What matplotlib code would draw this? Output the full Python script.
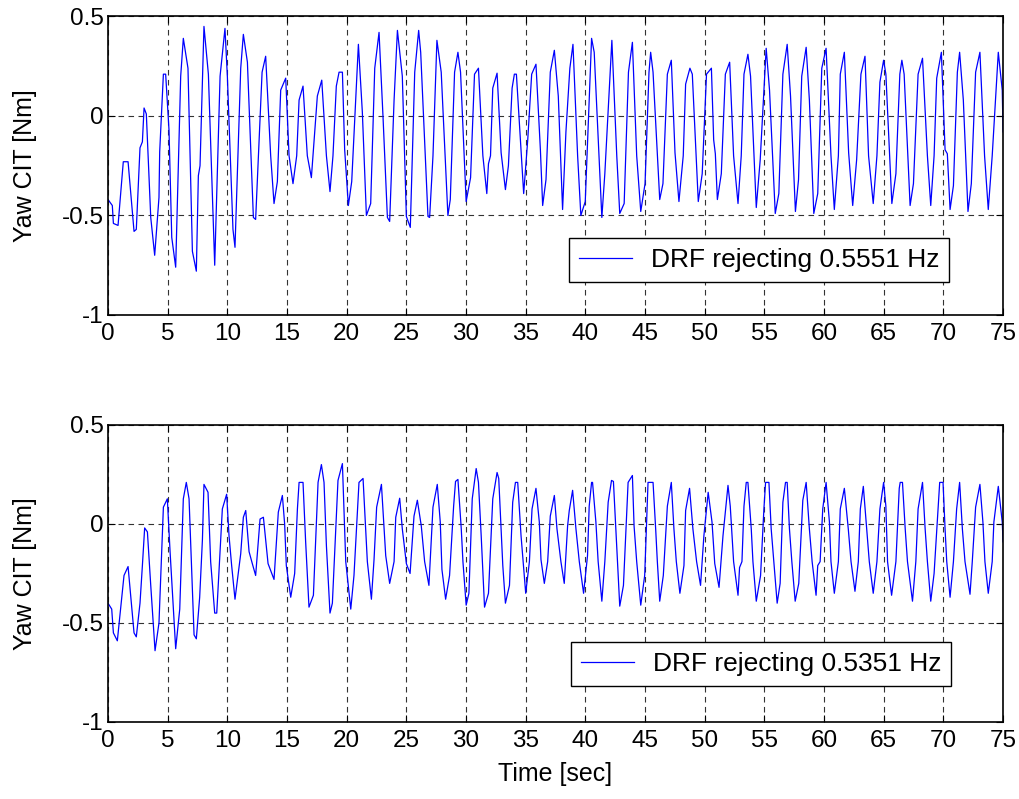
import matplotlib
matplotlib.use('Agg')
from matplotlib import pyplot as plt

plt.rcParams['font.family'] = ['Liberation Sans', 'DejaVu Sans']

# upper panel: DRF rejecting 0.5551 Hz (vertices)
t1 = [0.0, 0.36, 0.45, 0.84, 1.28, 1.68, 2.18, 2.37, 2.68, 2.88, 3.02, 3.21, 3.58, 3.91,
      4.27, 4.33, 4.64, 4.83, 5.11, 5.34, 5.67, 6.09, 6.31, 6.70, 7.07, 7.40, 7.57, 7.71,
      8.04, 8.41, 8.94, 9.39, 9.80, 10.0, 10.47, 10.64, 11.12, 11.34, 11.68, 12.18, 12.37,
      12.91, 13.21, 13.63, 13.91, 14.19, 14.47, 14.89, 15.17, 15.50, 15.81, 16.01, 16.34,
      16.70, 17.04, 17.54, 17.91, 18.30, 18.60, 18.85, 19.13, 19.36, 19.64, 19.83, 20.14,
      20.42, 20.98, 21.31, 21.65, 22.01, 22.35, 22.71, 23.04, 23.41, 23.60, 23.97, 24.25,
      24.66, 25.0, 25.33, 25.70, 26.03, 26.20, 26.81, 26.95, 27.23, 27.56, 27.92, 28.48,
      28.68, 29.04, 29.32, 29.54, 30.01, 30.38, 30.71, 31.04, 31.41, 31.74, 31.88, 32.05,
      32.24, 32.60, 32.94, 33.30, 33.55, 33.86, 34.05, 34.22, 34.83, 35.17, 35.50, 35.86,
      36.23, 36.42, 36.70, 37.06, 37.40, 37.73, 38.09, 38.37, 38.70, 38.96, 39.35, 39.62,
      39.99, 40.52, 40.74, 41.38, 41.63, 42.22, 42.63, 42.88, 43.25, 43.61, 43.94, 44.30,
      44.64, 45.00, 45.33, 45.47, 45.67, 46.23, 46.50, 46.87, 47.20, 47.51, 47.84, 48.20,
      48.40, 48.76, 48.96, 49.46, 49.79, 50.15, 50.56, 50.75, 50.89, 51.06, 51.39, 51.73,
      52.09, 52.42, 52.79, 53.06, 53.29, 53.62, 53.84, 54.32, 54.65, 55.15, 55.43, 55.91,
      56.21, 56.55, 56.91, 57.19, 57.60, 57.86, 58.13, 58.50, 58.77, 59.14, 59.47, 59.81,
      60.17, 60.58, 60.86, 61.20, 61.36, 61.70, 62.06, 62.40, 62.73, 63.09, 63.43, 63.73,
      64.12, 64.43, 64.68, 64.99, 65.18, 65.68, 66.02, 66.35, 66.52, 66.71, 67.21, 67.49,
      67.88, 68.25, 68.66, 68.94, 69.22, 69.44, 69.83, 70.14, 70.33, 70.56, 70.84, 71.17,
      71.36, 71.67, 72.06, 72.34, 72.70, 73.06, 73.45, 73.76, 74.09, 74.60, 74.93, 75.0]
y1 = [-0.42, -0.45, -0.54, -0.55, -0.23, -0.23, -0.58, -0.57, -0.16, -0.13, 0.04, 0.01, -0.51, -0.70,
      -0.41, -0.18, 0.21, 0.21, -0.07, -0.61, -0.76, 0.20, 0.39, 0.24, -0.68, -0.78, -0.30, -0.25,
      0.45, 0.21, -0.75, 0.20, 0.44, 0.20, -0.57, -0.66, 0.24, 0.41, 0.27, -0.51, -0.52,
      0.22, 0.30, -0.20, -0.44, -0.33, 0.13, 0.19, -0.20, -0.34, -0.20, 0.08, 0.15,
      -0.20, -0.31, 0.10, 0.18, -0.20, -0.38, -0.20, 0.15, 0.22, 0.22, -0.17, -0.45,
      -0.33, 0.36, 0.02, -0.50, -0.44, 0.24, 0.42, 0.0, -0.51, -0.53, 0.08, 0.43,
      0.20, -0.505, -0.56, 0.22, 0.43, 0.32, -0.505, -0.51, -0.20, 0.38, 0.22, -0.50,
      -0.42, 0.22, 0.32, 0.22, -0.43, -0.31, 0.21, 0.24, -0.20, -0.39, -0.24, -0.20,
      0.14, 0.215, -0.185, -0.37, -0.25, 0.14, 0.21, 0.21, -0.39, -0.12, 0.21, 0.26,
      -0.17, -0.45, -0.32, 0.22, 0.33, 0.10, -0.47, -0.08, 0.24, 0.36, -0.20, -0.50,
      -0.43, 0.39, 0.32, -0.51, -0.29, 0.38, -0.20, -0.49, -0.44, 0.22, 0.37, -0.20,
      -0.48, -0.34, 0.22, 0.32, 0.22, -0.42, -0.34, 0.21, 0.28, -0.185, -0.43, -0.20,
      0.16, 0.24, 0.21, -0.43, -0.29, 0.21, 0.24, -0.12, -0.19, -0.42, -0.29, 0.21,
      0.27, -0.20, -0.44, -0.20, 0.21, 0.31, 0.20, -0.46, -0.22, 0.34, 0.13, -0.49,
      -0.39, 0.21, 0.36, 0.10, -0.48, -0.32, 0.20, 0.345, 0.08, -0.49, -0.39, 0.24,
      0.34, -0.20, -0.47, -0.20, 0.21, 0.32, -0.185, -0.45, -0.22, 0.21, 0.30, -0.20,
      -0.44, -0.20, 0.17, 0.28, 0.21, -0.44, -0.29, 0.21, 0.28, 0.21, -0.45, -0.34,
      0.21, 0.29, -0.20, -0.45, -0.20, 0.19, 0.32, -0.17, -0.19, -0.47, -0.35, 0.22,
      0.32, 0.08, -0.48, -0.34, 0.22, 0.32, -0.20, -0.47, -0.20, 0.32, 0.13, -0.08]

# lower panel: DRF rejecting 0.5351 Hz
t2 = [0.0, 0.31, 0.45, 0.78, 1.34, 1.68, 2.18, 2.37, 2.68, 2.88, 3.07, 3.30, 3.58, 3.94,
      4.27, 4.64, 4.97, 5.20, 5.67, 6.01, 6.31, 6.56, 6.79, 7.21, 7.40, 7.68, 7.91, 8.04,
      8.38, 8.60, 8.94, 9.11, 9.58, 9.94, 10.14, 10.36, 10.64, 11.12, 11.34, 11.54, 11.82,
      12.09, 12.37, 12.74, 13.02, 13.41, 13.91, 14.27, 14.61, 14.80, 14.94, 15.31, 15.64,
      15.87, 16.01, 16.34, 16.56, 16.84, 17.21, 17.60, 17.88, 18.10, 18.30, 18.60, 18.80,
      19.27, 19.64, 19.92, 20.34, 20.61, 21.03, 21.37, 21.73, 22.07, 22.29, 22.51, 22.91,
      23.27, 23.60, 23.97, 24.11, 24.44, 24.66, 25.0, 25.31, 25.64, 25.92, 26.25, 26.53,
      26.89, 27.23, 27.59, 27.84, 27.98, 28.29, 28.62, 28.96, 29.12, 29.32, 29.60, 29.74,
      30.01, 30.24, 30.52, 30.85, 31.04, 31.27, 31.55, 31.88, 32.24, 32.60, 32.74, 33.08,
      33.30, 33.64, 33.91, 34.14, 34.33, 34.61, 35.00, 35.31, 35.53, 35.86, 36.14, 36.28,
      36.56, 36.84, 37.06, 37.40, 37.62, 37.95, 38.23, 38.51, 38.65, 38.93, 39.21, 39.49,
      39.85, 40.18, 40.32, 40.52, 40.60, 40.88, 41.07, 41.38, 41.63, 41.91, 42.19, 42.35,
      42.55, 42.69, 42.88, 43.19, 43.58, 43.94, 44.08, 44.30, 44.64, 44.97, 45.25, 45.67,
      45.89, 46.03, 46.23, 46.53, 46.87, 47.20, 47.42, 47.62, 47.92, 48.26, 48.40, 48.73,
      49.01, 49.32, 49.65, 49.93, 50.29, 50.61, 50.84, 51.20, 51.53, 51.95, 52.14, 52.42,
      52.79, 52.92, 53.12, 53.29, 53.48, 53.62, 53.90, 54.04, 54.32, 54.68, 54.96, 55.10,
      55.38, 55.57, 55.79, 56.07, 56.32, 56.55, 56.77, 56.91, 57.10, 57.30, 57.58, 57.88,
      58.22, 58.50, 58.77, 59.00, 59.33, 59.47, 59.67, 59.89, 60.17, 60.45, 60.58, 60.86,
      61.20, 61.36, 61.70, 62.03, 62.26, 62.59, 62.87, 63.04, 63.29, 63.57, 63.79, 64.12,
      64.43, 64.68, 64.99, 65.18, 65.32, 65.66, 66.02, 66.30, 66.38, 66.57, 66.80, 66.99,
      67.41, 67.69, 67.88, 68.25, 68.47, 68.66, 68.94, 69.22, 69.55, 69.69, 69.97, 70.14,
      70.28, 70.56, 70.84, 71.11, 71.36, 71.59, 71.81, 72.23, 72.42, 72.70, 73.06, 73.31,
      73.48, 73.76, 74.09, 74.23, 74.60, 74.93, 75.0]
y2 = [-0.40, -0.43, -0.55, -0.59, -0.26, -0.215, -0.55, -0.57, -0.40, -0.21, -0.02, -0.04, -0.31, -0.64,
      -0.50, 0.085, 0.127, -0.14, -0.63, -0.43, 0.127, 0.21, 0.127, -0.56, -0.58, -0.37, -0.08, 0.20,
      0.16, -0.19, -0.45, -0.45, 0.076, 0.15, -0.06, -0.21, -0.38, -0.15, 0.034, 0.068, -0.14,
      -0.20, -0.26, 0.025, 0.034, -0.20, -0.28, 0.06, 0.144, 0.0, -0.21, -0.37, -0.25,
      0.076, 0.21, 0.21, -0.09, -0.42, -0.36, 0.21, 0.30, 0.21, -0.11, -0.45, -0.40,
      0.22, 0.305, -0.19, -0.43, -0.26, 0.21, 0.23, -0.19, -0.38, -0.18, 0.085, 0.20,
      -0.16, -0.30, -0.19, 0.034, 0.13, -0.025, -0.20, -0.25, 0.04, 0.12, -0.01, -0.19,
      -0.31, 0.085, 0.20, 0.01, -0.23, -0.38, -0.26, 0.09, 0.215, 0.225, -0.025, -0.19,
      -0.41, -0.35, 0.127, 0.28, 0.21, -0.06, -0.42, -0.35, 0.127, 0.26, 0.23, -0.21,
      -0.40, -0.31, 0.11, 0.21, 0.21, -0.06, -0.35, -0.19, 0.076, 0.18, 0.01, -0.18,
      -0.30, -0.19, 0.04, 0.144, -0.025, -0.19, -0.30, -0.01, 0.068, 0.17, -0.025, -0.19,
      -0.35, -0.16, 0.09, 0.21, 0.21, 0.01, -0.19, -0.39, -0.19, 0.11, 0.22, 0.215,
      -0.025, -0.19, -0.415, -0.31, 0.21, 0.245, -0.01, -0.19, -0.41, -0.26, 0.21, 0.21,
      -0.025, -0.19, -0.39, -0.26, 0.09, 0.21, -0.025, -0.19, -0.35, -0.21, 0.068, 0.18,
      -0.025, -0.19, -0.31, -0.06, 0.16, 0.01, -0.20, -0.32, -0.06, 0.195, 0.09, -0.19,
      -0.36, -0.22, -0.19, 0.09, 0.21, 0.21, -0.025, -0.19, -0.39, -0.26, 0.076, 0.21,
      0.21, -0.025, -0.19, -0.40, -0.30, 0.11, 0.21, 0.21, -0.025, -0.19, -0.39, -0.30,
      0.12, 0.21, -0.025, -0.19, -0.36, -0.21, -0.19, 0.076, 0.21, 0.01, -0.19, -0.35,
      -0.19, 0.076, 0.18, -0.025, -0.19, -0.34, -0.19, 0.076, 0.19, -0.025, -0.19, -0.35,
      -0.19, 0.076, 0.21, 0.09, -0.19, -0.36, -0.19, 0.18, 0.21, 0.21, -0.025, -0.19,
      -0.39, -0.19, 0.076, 0.21, -0.025, -0.19, -0.39, -0.25, 0.076, 0.21, 0.21, -0.025,
      -0.19, -0.37, -0.19, 0.076, 0.21, -0.025, -0.19, -0.355, -0.19, 0.085, 0.20, 0.01,
      -0.19, -0.35, -0.19, 0.01, 0.19, 0.01, -0.09]

labels = ['DRF rejecting 0.5551 Hz', 'DRF rejecting 0.5351 Hz']
xticks = list(range(0, 76, 5))
yticks = [-1, -0.5, 0, 0.5]
yticklabels = ['-1', '-0.5', '0', '0.5']

fig = plt.figure(figsize=(10.2, 7.99), dpi=100)
ax1 = fig.add_axes([0.1059, 0.6058, 0.8775, 0.3736])
ax2 = fig.add_axes([0.1059, 0.0964, 0.8775, 0.3717])

panels = [(ax1, t1, y1, labels[0], (0.9397, 0.1106)),
          (ax2, t2, y2, labels[1], (0.9420, 0.1210))]

for ax, t, y, lab, anchor in panels:
    ax.plot(t, y, color=(0, 0, 1), lw=0.9, label=lab)
    ax.set_xlim(0, 75)
    ax.set_ylim(-1, 0.5)
    ax.set_xticks(xticks)
    ax.set_yticks(yticks)
    ax.set_yticklabels(yticklabels)
    ax.grid(True, color='#333333', linestyle=(0, (5, 4)), linewidth=0.8)
    ax.tick_params(axis='both', which='major', labelsize=17.5, direction='in',
                   top=True, right=True, length=5, width=0.8, pad=3)
    ax.tick_params(axis='x', pad=6)
    for s in ax.spines.values():
        s.set_linewidth(1.2)
    ax.set_ylabel('Yaw CIT [Nm]', fontsize=18, labelpad=18)
    leg = ax.legend(loc='lower right', bbox_to_anchor=anchor, fontsize=19,
                    fancybox=False, framealpha=1, edgecolor='black',
                    handlelength=2.0, handletextpad=0.7, borderpad=0.38,
                    borderaxespad=0)
    leg.get_frame().set_linewidth(1.0)

ax2.set_xlabel('Time [sec]', fontsize=18, labelpad=7)

fig.savefig('out.png', dpi=100)
